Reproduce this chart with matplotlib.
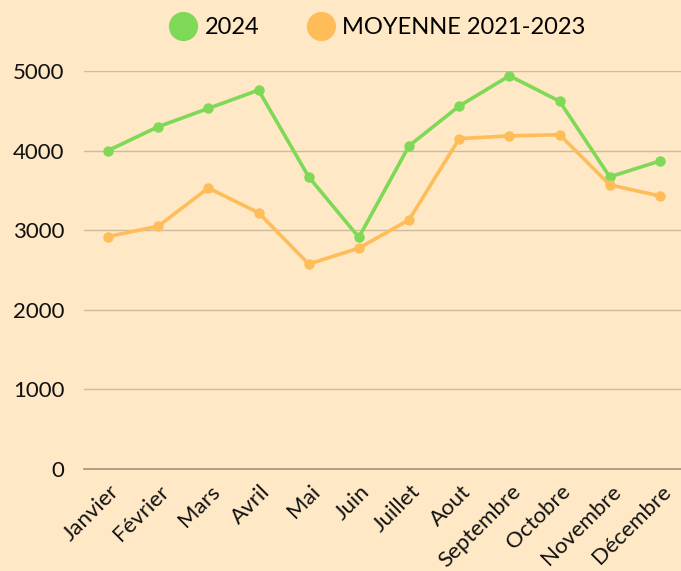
import matplotlib
matplotlib.use("Agg")
import matplotlib.pyplot as plt
from matplotlib.lines import Line2D
import matplotlib.transforms as mtransforms

months = ["Janvier", "Février", "Mars", "Avril", "Mai", "Juin", "Juillet",
          "Aout", "Septembre", "Octobre", "Novembre", "Décembre"]
values_2024 = [4000, 4300, 4530, 4760, 3670, 2910, 4060, 4560, 4940, 4620, 3670, 3870]
values_avg = [2920, 3050, 3530, 3220, 2575, 2775, 3130, 4150, 4185, 4200, 3570, 3430]
yticks = [0, 1000, 2000, 3000, 4000, 5000]

bg = "#FEE8C5"
green = "#7ED957"
orange = "#FFBD59"
grid = "#CDBB9C"

plt.rcParams['font.family'] = ['Lato', 'DejaVu Sans']

fig = plt.figure(figsize=(6.81, 5.71), dpi=100, facecolor=bg)
ax = fig.add_axes([84/681, 1-469/571, 1-84/681, (469-71)/571])
ax.set_facecolor(bg)

x = list(range(len(months)))
ax.plot(x, values_2024, color=green, lw=2.6, marker="o", ms=6.5, clip_on=False, zorder=3)
ax.plot(x, values_avg, color=orange, lw=2.6, marker="o", ms=6.5, clip_on=False, zorder=3)

ax.set_xlim(-0.478, 11.42)
ax.set_ylim(0, 5000)
ax.set_yticks(yticks)
ax.set_yticklabels([str(v) for v in yticks], fontsize=16, color="#111111")
ax.yaxis.grid(True, color=grid, lw=1)
ax.set_axisbelow(True)
ax.set_xticks(x)
ax.set_xticklabels(months, rotation=45, ha="right", rotation_mode="anchor", fontsize=16, color="#111111")
ax.tick_params(axis="x", length=0, pad=9)
ax.tick_params(axis="y", length=0, pad=14)
offset = mtransforms.ScaledTranslation(1/100, 0, fig.dpi_scale_trans)
for lab in ax.get_xticklabels():
    lab.set_transform(lab.get_transform() + offset)
for s in ["top", "right", "left"]:
    ax.spines[s].set_visible(False)
ax.spines["bottom"].set_color("#9E927E")
ax.spines["bottom"].set_linewidth(1.2)

handles = [Line2D([], [], marker="o", ls="", color=green, ms=20),
           Line2D([], [], marker="o", ls="", color=orange, ms=20)]
fig.legend(handles, ["2024", "MOYENNE 2021-2023"], loc="center", bbox_to_anchor=(0.554, 1-28/571),
           ncol=2, frameon=False, fontsize=17, handletextpad=0.3, columnspacing=2.0, handlelength=1.2)

fig.savefig("out.png", dpi=100, facecolor=bg)
